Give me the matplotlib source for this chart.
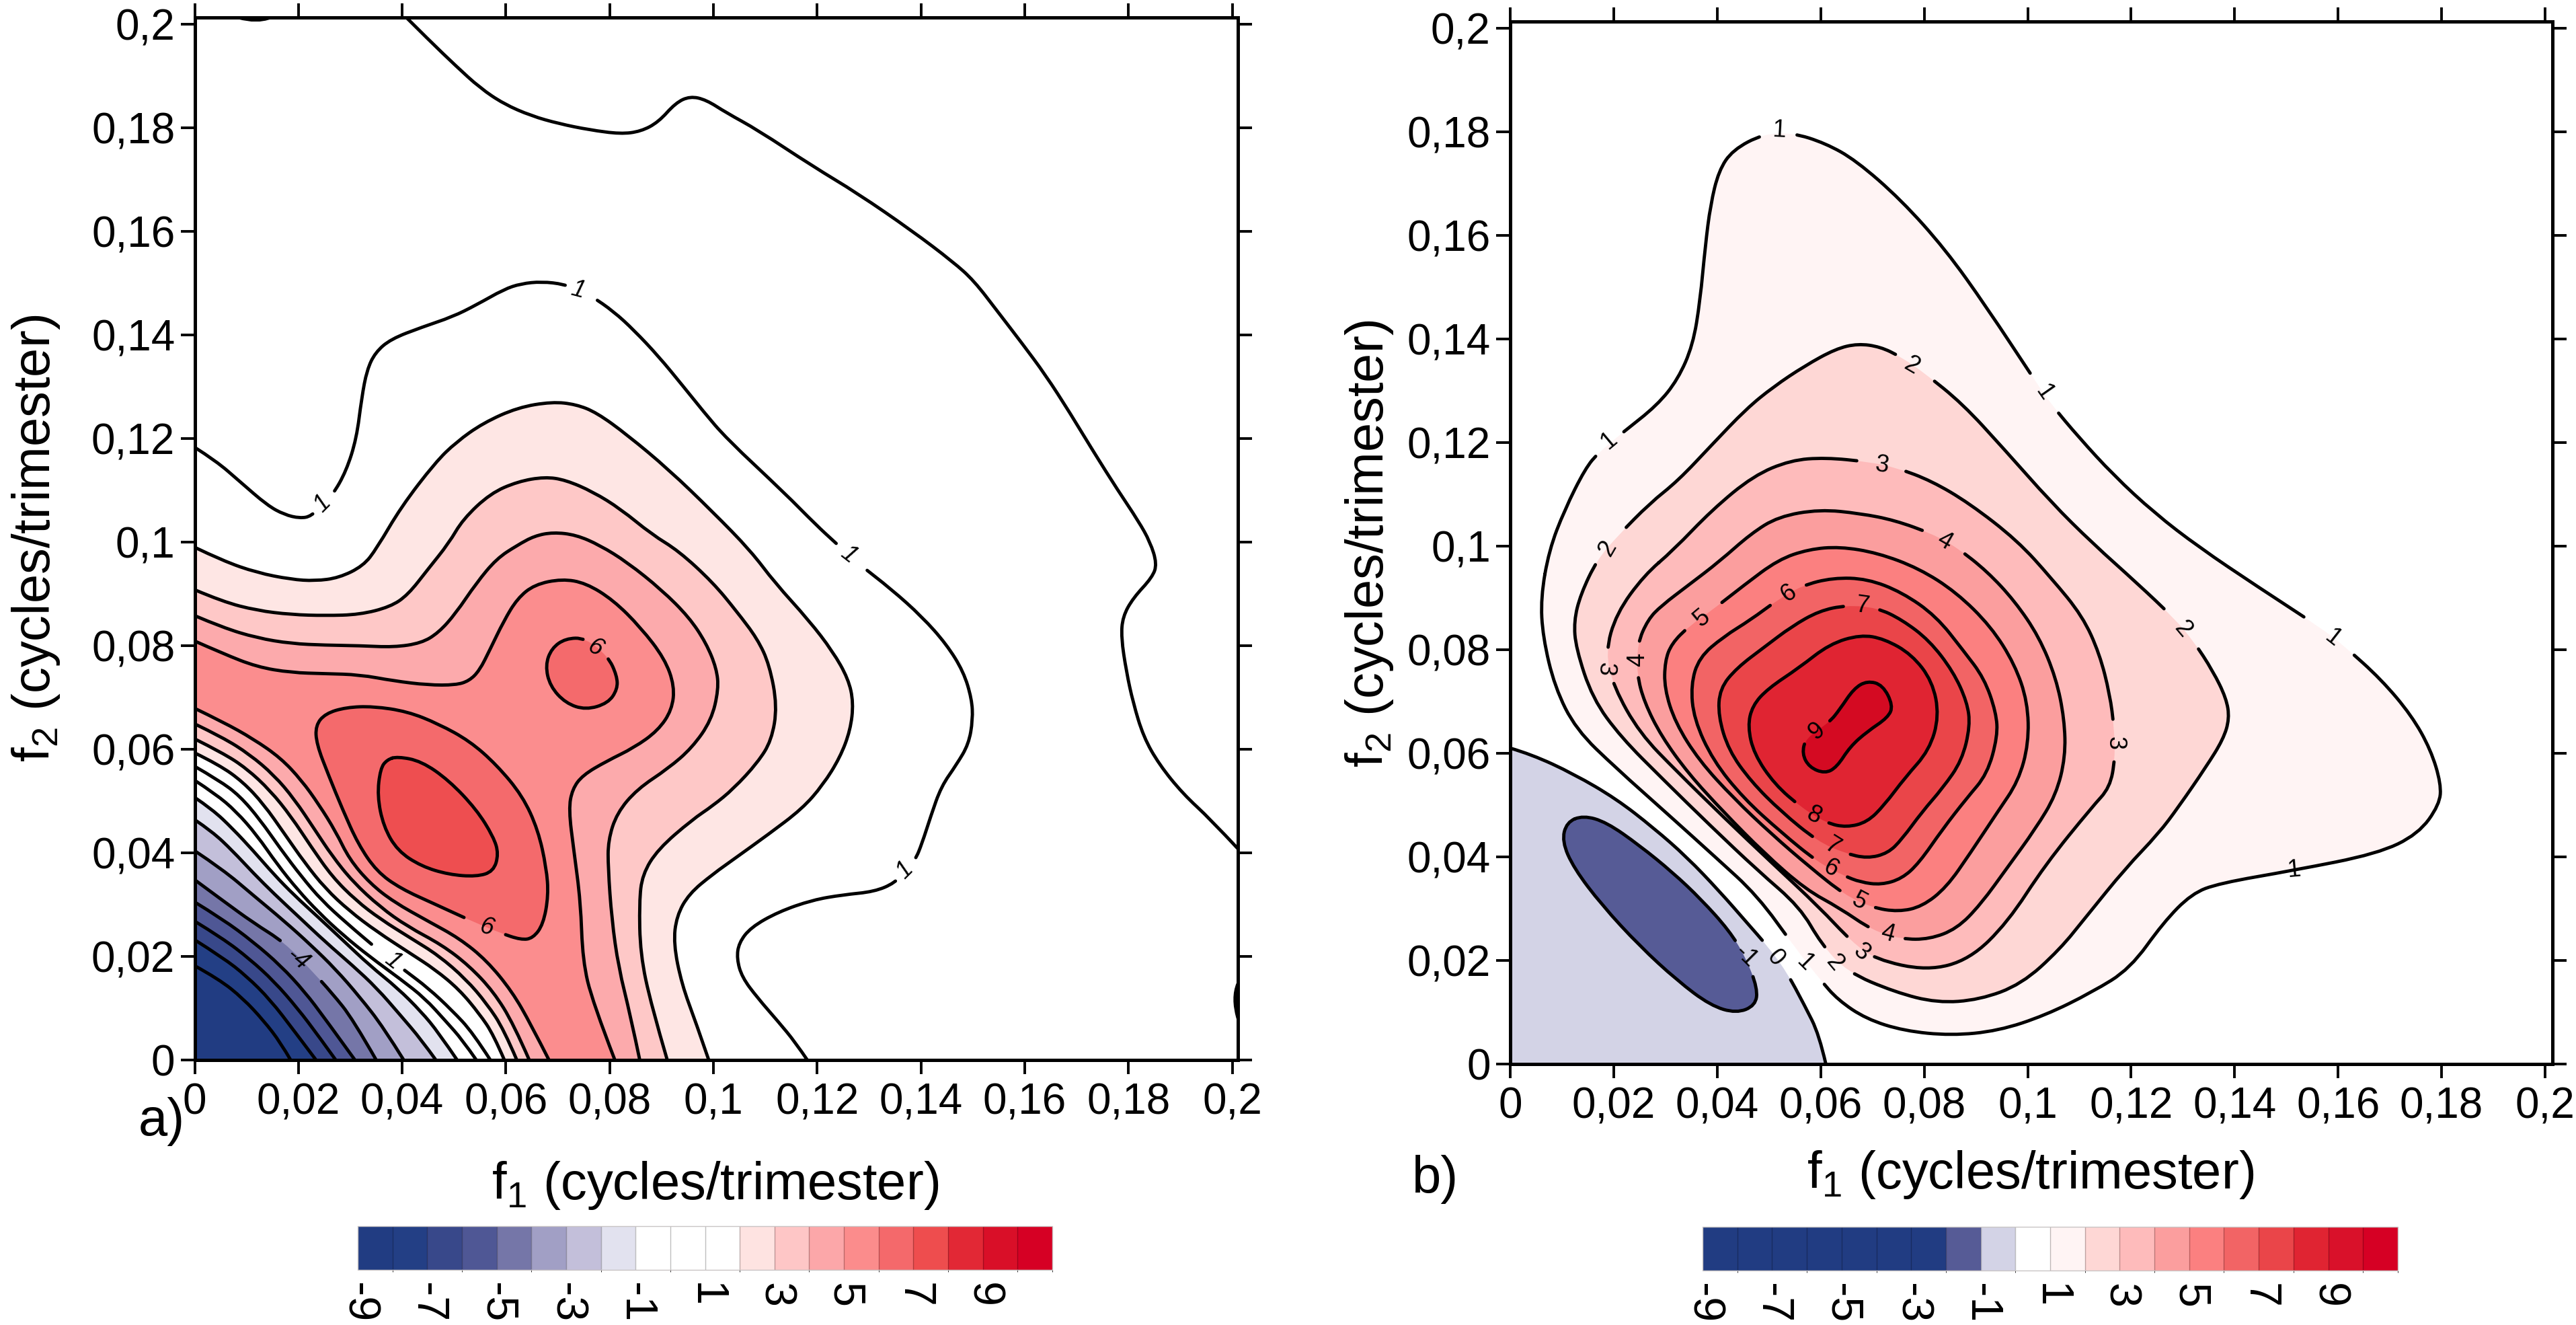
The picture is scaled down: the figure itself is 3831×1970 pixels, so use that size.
import matplotlib
matplotlib.use("Agg")
from matplotlib import pyplot as plt
from matplotlib.path import Path
from matplotlib.patches import PathPatch
from matplotlib.colors import ListedColormap, BoundaryNorm
from matplotlib.colorbar import Colorbar
import numpy as np

plt.rcParams['font.family'] = ['Liberation Sans', 'DejaVu Sans']
plt.rcParams['mathtext.fontset'] = 'custom'
plt.rcParams['mathtext.rm'] = 'Liberation Sans'
plt.rcParams['mathtext.default'] = 'regular'
plt.rcParams['axes.unicode_minus'] = False

# ---- data, all in (f1, f2) ----
ticks = [0, 0.02, 0.04, 0.06, 0.08, 0.1, 0.12, 0.14, 0.16, 0.18, 0.2]
tick_labels = ['0', '0,02', '0,04', '0,06', '0,08', '0,1', '0,12', '0,14', '0,16', '0,18', '0,2']
bar_levels = list(range(-9, 12))
bar_ticks = [-9, -7, -5, -3, -1, 1, 3, 5, 7, 9]

bar_colors_a = ['#213c82', '#233f85', '#38488a', '#4f5795', '#7576a8', '#a19fc5', '#c3bfda', '#e2e2ef',
                '#ffffff', '#ffffff', '#ffffff', '#fee3e1', '#fec6c6', '#fca7a9', '#fb8c8c', '#f4696b',
                '#ee4d4e', '#e22835', '#d90f28', '#d60024']
bar_colors_b = ['#213c82'] * 7 + ['#565b96', '#d3d3e6', '#ffffff', '#fff4f4', '#fed7d5', '#febbbb', '#fb9e9e',
                                  '#fb8080', '#f26465', '#ea4549', '#e02432', '#d9112a', '#d60024']

# panel a, level 1 lines without fill
a_top = [(.0408, .2013), (.0451, .197), (.0504, .1919), (.055, .1877), (.0596, .1846), (.0649, .1823), (.0702, .1808),
         (.0761, .1796), (.0821, .1788), (.086, .1793), (.0894, .1811), (.0927, .1848), (.0955, .1861), (.0986, .1854),
         (.1025, .1829), (.1085, .1796), (.1191, .1726), (.1277, .1674), (.1383, .1601), (.1462, .1541), (.1502, .1505),
         (.1548, .1445), (.1594, .1385), (.164, .1323), (.1687, .125), (.1733, .1174), (.1779, .1101), (.1819, .1041),
         (.1842, .1), (.1855, .0958), (.1846, .0932), (.1809, .0892), (.1789, .0856), (.1786, .0816), (.1796, .075),
         (.1809, .069), (.1829, .0624), (.1859, .0571), (.1905, .0514), (.1958, .0465), (.2011, .0408)]
a_one = [(0, .1183), (.0041, .1157), (.0087, .1117), (.014, .1071), (.0173, .1053), (.0203, .1046), (.0225, .105),
         (.0246, .1074), (.0266, .1091), (.0292, .1137), (.0312, .12), (.0322, .1279), (.0332, .1332), (.0348, .1366),
         (.0378, .1392), (.0438, .1415), (.0497, .1435), (.0543, .1458), (.0596, .1488), (.0629, .1499), (.0669, .1503),
         (.0712, .1498), (.0739, .1486), (.0765, .1475), (.0808, .1445), (.0847, .1409), (.0894, .1359), (.094, .1303),
         (.098, .1253), (.1025, .12), (.1138, .1094), (.1197, .1034), (.1236, .0998), (.128, .0958), (.1343, .0909),
         (.1402, .0856), (.1449, .0803), (.1482, .075), (.1498, .0697), (.15, .0657), (.1492, .061), (.1469, .0571),
         (.1439, .0528), (.1419, .0471), (.1402, .0418), (.1389, .0386), (.1369, .0366), (.135, .0342), (.131, .0325),
         (.125, .0319), (.1191, .0309), (.1125, .0286), (.1072, .0256), (.1049, .0226), (.1045, .0196), (.1055, .016),
         (.1085, .012), (.1125, .0074), (.1158, .0034), (.1181, 0)]
a_blip_top = [(.0084, .2013), (.012, .2003), (.0146, .2013)]
a_blip_right = [(.2011, .0147), (.2, .012), (.2011, .0081)]

# panel a, red levels, upper edges
a_pale = [(0, .099), (.0054, .0964), (.012, .0941), (.0186, .0928), (.0232, .0925), (.0278, .0931), (.0325, .0954),
          (.0351, .0988), (.0398, .1068), (.0464, .1154), (.0504, .1193), (.0556, .123), (.0623, .126), (.0689, .1271),
          (.0735, .1266), (.0775, .125), (.0834, .1207), (.0914, .114), (.0999, .1058), (.1072, .0983), (.1118, .0922),
          (.1184, .0849), (.123, .0789), (.126, .0736), (.127, .069), (.1264, .0637), (.1244, .0584), (.1211, .0531),
          (.1171, .0485), (.1105, .0435), (.1045, .0392), (.0999, .0359), (.0953, .0321), (.0929, .0278), (.0923, .0225),
          (.0939, .0146), (.0966, .0073), (.0991, 0)]
a_rose = [(0, .0908), (.0054, .0885), (.012, .0868), (.0186, .086), (.0252, .0858), (.0318, .086), (.0377, .0875),
          (.0411, .0898), (.045, .0948), (.049, .0998), (.0517, .1044), (.057, .1094), (.0623, .1117), (.0675, .1126),
          (.0715, .112), (.0768, .1097), (.0821, .1064), (.0881, .1015), (.0933, .0983), (.0999, .0922), (.1045, .0866),
          (.1085, .0813), (.1108, .0763), (.1123, .0683), (.1112, .0617), (.1085, .0574), (.1039, .0524), (.0999, .0491),
          (.0959, .0464), (.0893, .0407), (.0863, .0358), (.0857, .0305), (.0859, .0205), (.088, .0106), (.0911, 0)]
a_salmon = [(0, .0858), (.0054, .0835), (.012, .0815), (.0186, .0804), (.0252, .0801), (.0318, .08), (.0384, .0797),
            (.0437, .0805), (.047, .0825), (.0503, .0862), (.0543, .0921), (.0582, .0968), (.0622, .0994), (.0655, .1012),
            (.0691, .1019), (.0735, .1014), (.0781, .0994), (.0834, .0961), (.09, .0908), (.0953, .0855), (.0986, .0805),
            (.1006, .0756), (.101, .0716), (.0996, .0656), (.0959, .0603), (.0913, .0563), (.0853, .0523), (.0814, .0477),
            (.0797, .0424), (.0797, .0371), (.0804, .0272), (.0817, .0179), (.084, .0086), (.0858, 0)]
a_coral = [(0, .0809), (.0054, .0785), (.012, .0759), (.0186, .0748), (.0252, .0746), (.0318, .0744), (.0384, .0732),
           (.045, .0724), (.0503, .0724), (.0529, .0732), (.0549, .0752), (.0569, .0792), (.0596, .0848), (.0622, .0891),
           (.0655, .0918), (.0708, .0929), (.0754, .0921), (.0807, .0888), (.086, .0835), (.0906, .0775), (.0925, .0722),
           (.092, .0676), (.0893, .0636), (.0847, .0603), (.0794, .0577), (.0748, .055), (.0728, .0523), (.0721, .0484),
           (.0731, .0404), (.0744, .0305), (.0748, .0192), (.0767, .0112), (.081, 0)]
a_six = [(.059, .0245), (.0629, .0232), (.0652, .0235), (.0672, .0262), (.0682, .0318), (.0678, .0371), (.0662, .0444),
         (.0632, .051), (.0582, .057), (.053, .0616), (.047, .0649), (.041, .0673), (.0344, .0683), (.0292, .0681),
         (.0252, .0669), (.0233, .0646), (.0235, .061), (.0258, .055), (.0285, .0484), (.0315, .0417), (.0351, .0364),
         (.0397, .0331), (.0463, .0301), (.0539, .0266)]
a_seven = [(.0391, .0586), (.0437, .0577), (.049, .054), (.0543, .0484), (.0576, .0431), (.0586, .0398), (.0576, .0364),
           (.0543, .0354), (.049, .0358), (.0437, .0374), (.0391, .0404), (.0364, .0451), (.0352, .051), (.0358, .0563),
           (.0371, .058)]
a_six_small = [(.0797, .0779), (.0814, .0742), (.0815, .0716), (.0797, .0689), (.0754, .0676), (.0715, .0689),
               (.0685, .0722), (.0676, .0762), (.0688, .0795), (.0715, .0814), (.0753, .0815)]

# panel a, the falling lines towards the corner, top one first
a_fall_1 = [(0, .0679), (.0054, .0653), (.0113, .062), (.0166, .0583), (.0206, .054), (.0239, .0494), (.0272, .0441),
            (.0298, .0388), (.0338, .0341), (.0384, .0305), (.045, .0268), (.051, .0235), (.0563, .0192), (.0612, .0132),
            (.0648, .0069), (.0683, 0)]
a_fall_2 = [(0, .0649), (.0054, .0623), (.0106, .059), (.0153, .055), (.0192, .0504), (.0232, .0444), (.0265, .0394),
            (.0305, .0344), (.0358, .0295), (.041, .0258), (.0477, .0222), (.0529, .0182), (.0576, .0132), (.0615, .0069),
            (.0645, 0)]
a_fall_3 = [(0, .062), (.0054, .0593), (.01, .0563), (.0146, .052), (.0186, .047), (.0225, .0411), (.0265, .0354),
            (.0311, .0308), (.0358, .0272), (.0417, .0235), (.047, .0202), (.0523, .0156), (.0563, .0109), (.0596, .0059),
            (.0621, 0)]
a_fall_4 = [(0, .0593), (.0047, .057), (.0093, .0537), (.0133, .0494), (.0173, .0437), (.0212, .0381), (.0252, .0331),
            (.0298, .0288), (.0351, .0248), (.0417, .0205), (.0463, .0175), (.051, .0136), (.0549, .0089), (.0576, .0049),
            (.0597, 0)]
a_fall_5 = [(0, .0567), (.0047, .054), (.0087, .051), (.0126, .0464), (.0166, .0407), (.0206, .0354), (.0245, .0308),
            (.0292, .0265), (.0358, .0209), (.0405, .0173), (.045, .0139), (.0496, .0096), (.0536, .0053), (.057, 0)]
a_fall_6 = [(0, .054), (.004, .0514), (.008, .048), (.012, .0434), (.0159, .0378), (.0199, .0328), (.0239, .0285),
            (.0285, .0242), (.0338, .0199), (.0397, .0156), (.0444, .0119), (.0483, .0076), (.0516, .0039), (.0543, 0)]
a_fall_7 = [(0, .0507), (.0034, .0484), (.0073, .0447), (.0113, .0404), (.0153, .0358), (.0192, .0318), (.0239, .0275),
            (.0285, .0232), (.0338, .0182), (.0391, .0139), (.0437, .0093), (.047, .0053), (.0506, 0)]
a_fall_8 = [(0, .0464), (.0034, .0441), (.0073, .0404), (.0113, .0361), (.0153, .0321), (.0199, .0278), (.0252, .0228),
            (.0305, .0182), (.0351, .0139), (.0397, .0086), (.0437, .0039), (.0465, 0)]
a_fall_9 = [(0, .0404), (.0054, .0368), (.0113, .0318), (.0173, .0268), (.0224, .0222), (.0272, .0175), (.0318, .0122),
            (.0364, .0063), (.0403, 0)]
a_fall_10 = [(0, .0348), (.0054, .0308), (.0113, .0265), (.0173, .0227), (.0224, .0174), (.0265, .0129), (.0305, .0079),
             (.035, 0)]
a_fall_11 = [(0, .0305), (.0054, .0272), (.0113, .0228), (.0166, .0182), (.0212, .0132), (.0252, .0079), (.0309, 0)]
a_fall_12 = [(0, .0268), (.0054, .0235), (.0106, .0195), (.0153, .0152), (.0199, .0099), (.0239, .0046), (.0272, 0)]
a_fall_13 = [(0, .0232), (.0054, .0198), (.01, .0162), (.0146, .0116), (.0192, .0056), (.0234, 0)]
a_fall_14 = [(0, .0182), (.0047, .0156), (.0093, .0119), (.0133, .0076), (.0166, .0033), (.0185, 0)]

# panel b, closed lines per level, -1 and 0 are in the corner
b_zero = [(0, .061), (.0041, .0598), (.0123, .056), (.0205, .0512), (.0277, .0456), (.0341, .04), (.0405, .0333),
          (.046, .027), (.0496, .0229), (.0533, .018), (.0569, .0113), (.0597, .0057), (.061, 0)]
b_corner = [(0, .0022), (.0022, 0)]
b_minus = [(.0141, .048), (.0186, .0467), (.025, .0422), (.0314, .037), (.0369, .0318), (.0423, .0258), (.0455, .0206),
           (.0478, .0146), (.0474, .0113), (.0437, .0098), (.0387, .0113), (.0323, .0161), (.025, .0228), (.0177, .0307),
           (.0123, .0378), (.01, .043), (.0109, .0467)]
b_l1 = [(.0075, .0992), (.0105, .107), (.0145, .115), (.0171, .1181), (.0217, .1219), (.0284, .1272), (.0324, .1322),
        (.0353, .1388), (.0367, .1474), (.0377, .158), (.0387, .1659), (.0403, .1725), (.043, .1765), (.0489, .1796),
        (.0546, .1798), (.0609, .1778), (.0668, .1745), (.0755, .1669), (.0841, .1573), (.0921, .1461), (.1012, .1323),
        (.1046, .1273), (.1099, .121), (.1166, .1137), (.1245, .1064), (.1331, .0998), (.1444, .0922), (.1567, .0842),
        (.1613, .0806), (.1683, .0743), (.1742, .0673), (.1779, .0607), (.1799, .0541), (.1796, .0501), (.1755, .0444),
        (.1676, .0406), (.1514, .0374), (.137, .0349), (.1317, .0329), (.1262, .0273), (.1198, .0184), (.1125, .0139),
        (.1034, .0094), (.0943, .0064), (.0852, .0055), (.0761, .0064), (.0688, .0087), (.0633, .0124), (.0599, .0163),
        (.0551, .0224), (.0478, .0325), (.0396, .04), (.0305, .0482), (.0205, .0571), (.0127, .0646), (.0086, .0728),
        (.0063, .0825), (.0059, .09)]
b_l2 = [(.0208, .102), (.027, .1083), (.0324, .1126), (.039, .1196), (.0456, .1265), (.0509, .1308), (.0569, .1348),
        (.0629, .1381), (.0672, .1391), (.0715, .1385), (.0754, .1366), (.0801, .1334), (.0874, .1275), (.0953, .1189),
        (.1046, .1084), (.1126, .1005), (.1212, .0928), (.1282, .0862), (.1321, .0816), (.1358, .0759), (.1384, .0706),
        (.139, .0667), (.1378, .0627), (.1345, .0574), (.1292, .0497), (.1253, .0445), (.1189, .0378), (.1116, .0288),
        (.1062, .0221), (.0988, .0154), (.0907, .0124), (.0825, .0118), (.0743, .0139), (.0651, .0178), (.0601, .0232),
        (.056, .0303), (.0478, .0374), (.0387, .046), (.0296, .0549), (.0214, .0631), (.0159, .0706), (.0127, .0803),
        (.0123, .0855), (.0136, .0907), (.0168, .0974)]
b_l3 = [(.0315, .0992), (.039, .107), (.047, .1136), (.0542, .1166), (.0609, .1171), (.0691, .1163), (.0748, .1151),
        (.0814, .1126), (.0887, .1083), (.098, .1011), (.1046, .0938), (.1106, .0865), (.1139, .0792), (.1159, .0713),
        (.1167, .065), (.1169, .059), (.1159, .0534), (.1125, .0497), (.1034, .0385), (.0961, .0273), (.0888, .0202),
        (.0806, .018), (.0706, .0202), (.066, .0236), (.0597, .0303), (.0505, .0389), (.0414, .0475), (.0323, .0564),
        (.025, .0639), (.02, .0728), (.0184, .0795), (.0205, .087), (.0259, .0944)]
b_l4 = [(.0246, .0812), (.0266, .0858), (.0292, .0885), (.0345, .0925), (.0405, .0971), (.0465, .1024), (.0518, .1057),
        (.0598, .1071), (.0677, .1063), (.0743, .105), (.0815, .1024), (.0864, .0997), (.0922, .0951), (.0975, .0894),
        (.1022, .0825), (.1055, .0745), (.1071, .0666), (.1073, .0593), (.1055, .052), (.1015, .0454), (.0962, .0381),
        (.0909, .0308), (.0863, .0261), (.081, .0241), (.0757, .0241), (.07, .0258), (.0637, .0301), (.0571, .0337),
        (.0491, .0407), (.0412, .0487), (.0345, .056), (.0292, .0633), (.0259, .0699), (.0245, .0752)]
b_l5 = [(.0395, .088), (.0451, .0924), (.0518, .0974), (.0577, .0994), (.0637, .0999), (.071, .0987), (.079, .0957),
        (.0862, .0911), (.0929, .0845), (.0975, .0772), (.1, .0699), (.1002, .0619), (.0982, .0546), (.0942, .0487),
        (.0889, .0407), (.0843, .0341), (.0796, .0304), (.075, .0294), (.07, .0302), (.0647, .0326), (.0578, .0381),
        (.0505, .0444), (.0432, .0513), (.0365, .0586), (.0319, .0659), (.0298, .0725), (.0299, .0778), (.0312, .0812),
        (.0345, .0845)]
b_l6 = [(.0564, .0924), (.0624, .0939), (.069, .0937), (.0757, .0911), (.0823, .0865), (.0876, .0798), (.0916, .0745),
        (.0939, .0679), (.0942, .0633), (.0922, .056), (.0882, .0513), (.0836, .0454), (.079, .0388), (.0757, .0358),
        (.0717, .0346), (.0677, .0351), (.0644, .0364), (.0594, .039), (.0524, .0447), (.0451, .0513), (.0392, .0586),
        (.0355, .0666), (.0349, .0732), (.0365, .0785), (.0412, .0825), (.0465, .0858), (.0515, .0895)]
b_l7 = [(.0709, .0881), (.0757, .0858), (.081, .0818), (.0856, .0758), (.0883, .0699), (.0889, .0653), (.0873, .0586),
        (.0836, .0533), (.0796, .0487), (.0757, .0434), (.073, .0407), (.069, .0397), (.0647, .0407), (.0594, .043),
        (.0524, .0487), (.0465, .0546), (.0422, .0606), (.0402, .0672), (.0405, .0725), (.0438, .0765), (.0491, .0805),
        (.0544, .0845), (.0597, .0875), (.065, .0886)]
b_l8 = [(.0612, .0465), (.065, .0457), (.069, .0467), (.0723, .05), (.0763, .0553), (.081, .0606), (.0829, .0672),
        (.0816, .0739), (.0776, .0791), (.0723, .0821), (.0677, .0829), (.0617, .0811), (.0558, .0765), (.0498, .0725),
        (.0468, .0692), (.0459, .0652), (.0471, .0599), (.0511, .054), (.0563, .0495)]
b_l9 = [(.0617, .066), (.0637, .0685), (.0664, .0725), (.069, .074), (.072, .0732), (.074, .0692), (.073, .0669),
        (.069, .0642), (.0657, .0613), (.0631, .0573), (.0608, .0561), (.0578, .0573), (.0564, .0599), (.0571, .0629)]

# contour labels: f1, f2, text, angle
labels_a = [(.0739, .1486, '1', -15), (.0246, .1074, '1', 45), (.126, .0976, '1', -38),
            (.1369, .0366, '1', 45), (.0382, .0191, '1', -38), (.0199, .0195, '-4', -40),
            (.0564, .0255, '6', -15), (.0773, .0795, '6', -30)]
labels_b = [(.0519, .1802, '1', -3), (.0191, .1203, '1', 40), (.1032, .1296, '1', -55),
            (.159, .0822, '1', -38), (.1514, .0374, '1', 5), (.0569, .0195, '1', -45),
            (.0188, .0996, '2', 60), (.0776, .1348, '2', -30), (.13, .0839, '2', -50),
            (.0626, .0195, '2', -50), (.0719, .1156, '3', -8), (.0184, .0762, '3', -95),
            (.1169, .062, '3', -90), (.0679, .0215, '3', -40), (.0839, .1009, '4', -30),
            (.0246, .078, '4', 90), (.073, .0252, '4', -15), (.0371, .0861, '5', 40),
            (.0674, .0314, '5', -28), (.0538, .0908, '6', 35), (.0619, .0377, '6', -28),
            (.068, .0884, '7', -8), (.0622, .042, '7', -32), (.0587, .048, '8', -25),
            (.0592, .0642, '9', 40), (.0512, .0205, '0', -50), (.0455, .0208, '-1', -45)]

W, H = 3831, 1970
LINE_W = 3.5


def curve_parts(points, closed=False):
    # quadratic pieces through the midpoints, so the read points give a smooth line
    verts, codes = [], []
    n = len(points)
    mid = lambda p, q: ((p[0] + q[0]) / 2, (p[1] + q[1]) / 2)
    if closed:
        verts.append(mid(points[-1], points[0]))
        codes.append(Path.MOVETO)
        for i in range(n):
            verts += [points[i], mid(points[i], points[(i + 1) % n])]
            codes += [Path.CURVE3, Path.CURVE3]
        return verts, codes
    verts.append(points[0])
    codes.append(Path.MOVETO)
    for i in range(1, n - 1):
        end = points[-1] if i == n - 2 else mid(points[i], points[i + 1])
        verts += [points[i], end]
        codes += [Path.CURVE3, Path.CURVE3]
    return verts, codes


def draw_lines(ax, lines, closed_flags, labels):
    # flatten every curve to screen points, then break each one where its own label sits
    polys = []
    for points, closed in zip(lines, closed_flags):
        verts, codes = curve_parts(points, closed)
        polys.append(Path(verts, codes).to_polygons(ax.transData, closed_only=False)[0].copy())
    keep = [np.ones(len(p), dtype=bool) for p in polys]
    for x, y, txt, ang in labels:
        spot = ax.transData.transform((x, y))
        dist = [np.hypot(*(p - spot).T) for p in polys]
        near = int(np.argmin([d.min() for d in dist]))
        keep[near] &= dist[near] > (27 if len(txt) > 1 else 20)
    back = ax.transData.inverted()
    for p, k in zip(polys, keep):
        xy = back.transform(p)
        xy[~k] = np.nan
        ax.plot(xy[:, 0], xy[:, 1], color='black', lw=LINE_W, zorder=3, solid_capstyle='round')


def fill_closed(ax, points, color):
    verts, codes = curve_parts(points, True)
    ax.add_patch(PathPatch(Path(verts, codes), fc=color, ec='none', zorder=2))


def fill_between_curves(ax, upper, lower, color):
    # upper runs from the left spine round to the bottom, lower comes back
    v1, c1 = curve_parts(upper)
    v2, c2 = curve_parts(lower[::-1])
    c2[0] = Path.LINETO
    verts = v1 + v2 + [v1[0], v1[0]]
    codes = c1 + c2 + [Path.LINETO, Path.CLOSEPOLY]
    ax.add_patch(PathPatch(Path(verts, codes), fc=color, ec='none', zorder=2))


def fill_corner(ax, points, color):
    v, c = curve_parts(points)
    verts = v + [(0, 0), v[0], v[0]]
    codes = c + [Path.LINETO, Path.LINETO, Path.CLOSEPOLY]
    ax.add_patch(PathPatch(Path(verts, codes), fc=color, ec='none', zorder=2))


def make_axes(fig, left, right, top, bottom, xscale, yscale):
    ax = fig.add_axes([left / W, 1 - bottom / H, (right - left) / W, (bottom - top) / H])
    ax.set_xlim(0, (right - left) / xscale)
    ax.set_ylim(0, (bottom - top) / yscale)
    ax.set_xticks(ticks)
    ax.set_yticks(ticks)
    ax.set_xticklabels(tick_labels)
    ax.set_yticklabels(tick_labels)
    ax.tick_params(direction='out', length=15, width=2.8, labelsize=46, top=True, right=True, pad=6)
    ax.tick_params(axis='x', pad=9)
    for s in ax.spines.values():
        s.set_linewidth(3.6)
        s.set_zorder(5)
    return ax


def put_labels(ax, items, italic=False):
    for x, y, txt, ang in items:
        ax.text(x, y, txt, rotation=ang, ha='center', va='center', fontsize=26, rotation_mode='anchor',
                style='italic' if italic else 'normal', zorder=4)


def make_bar(fig, left, right, top, bottom, colors):
    cax = fig.add_axes([left / W, 1 - bottom / H, (right - left) / W, (bottom - top) / H])
    cmap = ListedColormap(colors)
    norm = BoundaryNorm(bar_levels, cmap.N)
    cb = Colorbar(cax, cmap=cmap, norm=norm, orientation='horizontal', ticks=bar_ticks, drawedges=True,
                  spacing='proportional')
    cb.dividers.set_color('#00000040')
    cb.dividers.set_linewidth(1.0)
    cb.outline.set_edgecolor('#c8c4c4')
    cb.outline.set_linewidth(1.0)
    cb.set_ticklabels([str(v) for v in bar_ticks])
    cax.tick_params(length=0, pad=14, labelsize=48, labelrotation=-90)


fig = plt.figure(figsize=(W / 100, H / 100), dpi=100)

# panel a
ax = make_axes(fig, 289.5, 1841, 26, 1576, 7715, 7700)
fill_between_curves(ax, a_pale, a_fall_4, '#fee6e4')
fill_between_curves(ax, a_rose, a_fall_3, '#fec8c7')
fill_between_curves(ax, a_salmon, a_fall_2, '#fcaaac')
fill_between_curves(ax, a_coral, a_fall_1, '#fb8d8e')
fill_closed(ax, a_six, '#f46a6c')
fill_closed(ax, a_seven, '#ee4e50')
fill_closed(ax, a_six_small, '#f46a6c')
fill_corner(ax, a_fall_7, '#e2e2ef')
fill_corner(ax, a_fall_8, '#c3bfda')
fill_corner(ax, a_fall_9, '#a19fc5')
fill_corner(ax, a_fall_10, '#7576a8')
fill_corner(ax, a_fall_11, '#4f5795')
fill_corner(ax, a_fall_12, '#38488a')
fill_corner(ax, a_fall_13, '#233f85')
fill_corner(ax, a_fall_14, '#213c82')
a_open = [a_top, a_one, a_blip_top, a_blip_right, a_pale, a_rose, a_salmon, a_coral,
          a_fall_1, a_fall_2, a_fall_3, a_fall_4, a_fall_5, a_fall_6, a_fall_7,
          a_fall_8, a_fall_9, a_fall_10, a_fall_11, a_fall_12, a_fall_13, a_fall_14]
a_closed = [a_six, a_seven, a_six_small]
draw_lines(ax, a_open + a_closed, [False] * len(a_open) + [True] * len(a_closed), labels_a)
put_labels(ax, labels_a, italic=True)

# panel b
bx = make_axes(fig, 2246, 3796, 32, 1582, 7695, 7700)
fill_corner(bx, b_zero, '#d3d3e6')
fill_closed(bx, b_minus, '#565b96')
b_levels = [b_l1, b_l2, b_l3, b_l4, b_l5, b_l6, b_l7, b_l8, b_l9]
b_colors = ['#fff4f4', '#fed7d5', '#febbbb', '#fb9e9e', '#fb8080', '#f26465', '#ea4549', '#e02432', '#d40a22']
for line, col in zip(b_levels, b_colors):
    fill_closed(bx, line, col)
b_closed = [b_minus] + b_levels
draw_lines(bx, b_closed + [b_zero, b_corner], [True] * len(b_closed) + [False, False], labels_b)
put_labels(bx, labels_b)

make_bar(fig, 532, 1565, 1823, 1888, bar_colors_a)
make_bar(fig, 2532, 3566, 1824, 1889, bar_colors_b)

lab_size = 56
fig.text(1064 / W, 1 - 1783 / H, 'f$_1$ (cycles/trimester)', ha='center', va='baseline', fontsize=lab_size)
fig.text(3020 / W, 1 - 1767 / H, 'f$_1$ (cycles/trimester)', ha='center', va='baseline', fontsize=lab_size)
fig.text(54 / W, 1 - 800 / H, 'f$_2$ (cycles/trimester)', ha='center', va='center', rotation=90, fontsize=lab_size)
fig.text(2037 / W, 1 - 808 / H, 'f$_2$ (cycles/trimester)', ha='center', va='center', rotation=90, fontsize=lab_size)
fig.text(240 / W, 1 - 1668 / H, 'a)', ha='center', va='center', fontsize=56)
fig.text(2135 / W, 1 - 1754 / H, 'b)', ha='center', va='center', fontsize=56)

fig.savefig('out.png', dpi=100)
